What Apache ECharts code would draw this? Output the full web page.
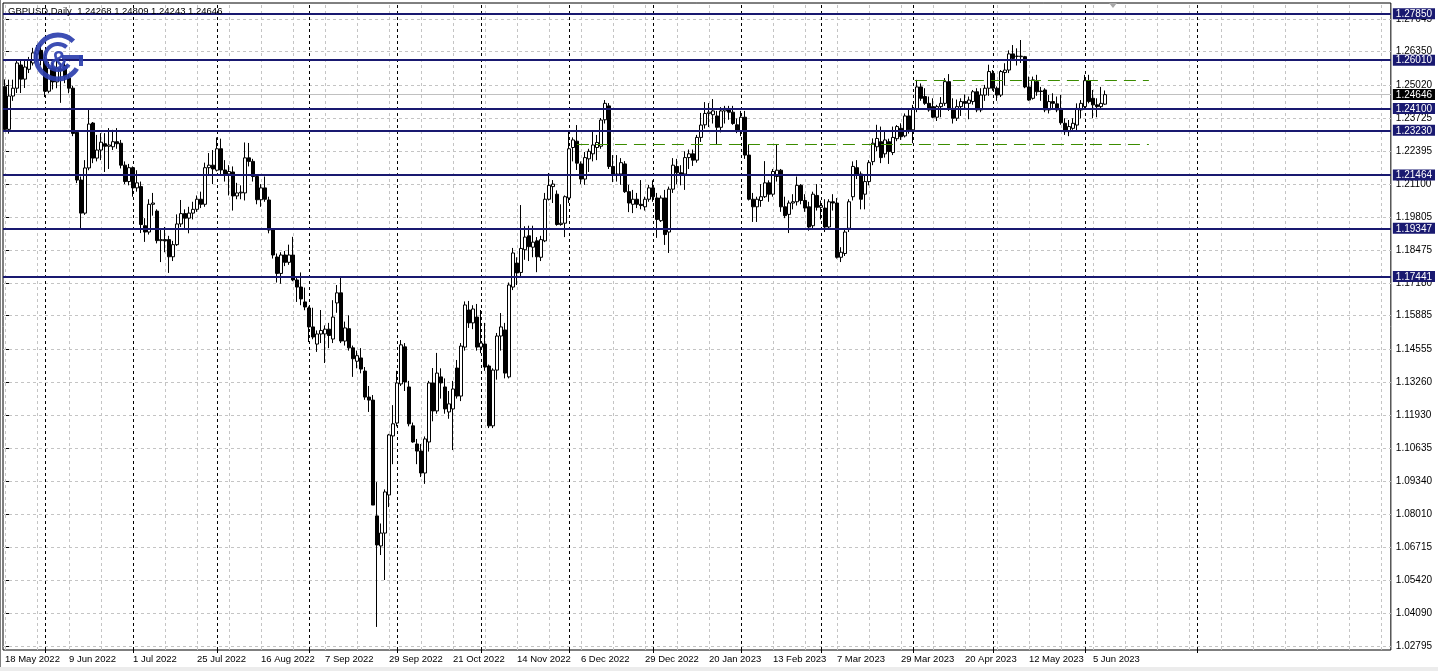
<!DOCTYPE html>
<html>
<head>
<meta charset="utf-8">
<script src="https://cdn.jsdelivr.net/npm/echarts@6/dist/echarts.min.js"></script>
<style>
html,body{margin:0;padding:0;background:#fff;}
#chart{width:1438px;height:671px;}
</style>
</head>
<body>
<div id="chart"></div>
<script>
// Daily bars from 18 May 2022 (index 0) to 8 Jun 2023 (index 275): [open, high, low, close]
const ohlc = [
[1.2496,1.2525,1.2320,1.2327],[1.2327,1.2524,1.2310,1.2459],[1.2459,1.2524,1.2440,1.2490],[1.2490,1.2602,1.2471,1.2590],
[1.2582,1.2598,1.2471,1.2526],[1.2526,1.2602,1.2491,1.2574],[1.2565,1.2614,1.2550,1.2600],[1.2590,1.2650,1.2580,1.2630],
[1.2625,1.2661,1.2594,1.2640],[1.2640,1.2665,1.2580,1.2605],[1.2605,1.2615,1.2455,1.2478],[1.2478,1.2595,1.2470,1.2570],
[1.2570,1.2590,1.2485,1.2515],[1.2515,1.2600,1.2490,1.2570],[1.2565,1.2590,1.2432,1.2560],[1.2580,1.2600,1.2510,1.2535],
[1.2530,1.2545,1.2470,1.2490],[1.2490,1.2500,1.2300,1.2311],[1.2315,1.2320,1.2114,1.2126],[1.2126,1.2140,1.1932,1.1995],
[1.1995,1.2205,1.1988,1.2174],[1.2174,1.2406,1.2165,1.2348],[1.2352,1.2356,1.2193,1.2213],[1.2213,1.2305,1.2200,1.2245],
[1.2245,1.2312,1.2205,1.2276],[1.2270,1.2312,1.2158,1.2260],[1.2260,1.2332,1.2170,1.2265],[1.2258,1.2325,1.2245,1.2278],
[1.2278,1.2332,1.2250,1.2270],[1.2272,1.2285,1.2172,1.2185],[1.2185,1.2200,1.2110,1.2120],[1.2120,1.2190,1.2105,1.2175],
[1.2175,1.2180,1.2060,1.2095],[1.2095,1.2165,1.2080,1.2115],[1.2100,1.2120,1.1916,1.1950],[1.1945,1.1975,1.1881,1.1920],
[1.1920,1.2050,1.1910,1.2030],[1.2030,1.2075,1.1985,1.2035],[1.2003,1.2010,1.1875,1.1886],[1.1886,1.1935,1.1801,1.1890],
[1.1890,1.1940,1.1840,1.1885],[1.1890,1.1905,1.1758,1.1822],[1.1822,1.1885,1.1805,1.1870],[1.1870,1.1990,1.1865,1.1952],
[1.1952,1.2047,1.1940,1.1993],[1.1993,1.2010,1.1935,1.1975],[1.1975,1.2020,1.1915,1.1995],[1.1995,1.2040,1.1970,1.2010],
[1.2010,1.2065,1.2000,1.2050],[1.2050,1.2080,1.2015,1.2030],[1.2030,1.2195,1.2020,1.2175],[1.2175,1.2233,1.2150,1.2185],
[1.2185,1.2245,1.2110,1.2170],[1.2165,1.2295,1.2160,1.2250],[1.2250,1.2290,1.2150,1.2166],[1.2166,1.2205,1.2120,1.2150],
[1.2150,1.2185,1.2065,1.2160],[1.2158,1.2180,1.2005,1.2063],[1.2063,1.2115,1.2050,1.2075],[1.2075,1.2105,1.2050,1.2078],
[1.2075,1.2275,1.2045,1.2214],[1.2214,1.2273,1.2180,1.2200],[1.2200,1.2210,1.2120,1.2140],[1.2140,1.2150,1.2030,1.2048],
[1.2048,1.2110,1.2020,1.2095],[1.2095,1.2140,1.2040,1.2050],[1.2047,1.2060,1.1915,1.1928],[1.1928,1.1935,1.1815,1.1829],
[1.1821,1.1835,1.1720,1.1756],[1.1756,1.1840,1.1715,1.1829],[1.1829,1.1845,1.1785,1.1800],[1.1800,1.1870,1.1790,1.1829],
[1.1829,1.1901,1.1725,1.1730],[1.1730,1.1745,1.1643,1.1702],[1.1702,1.1760,1.1630,1.1655],[1.1643,1.1700,1.1610,1.1623],
[1.1619,1.1625,1.1484,1.1544],[1.1544,1.1620,1.1495,1.1504],[1.1476,1.1530,1.1445,1.1516],[1.1516,1.1611,1.1480,1.1530],
[1.1516,1.1550,1.1401,1.1535],[1.1535,1.1560,1.1460,1.1510],[1.1496,1.1650,1.1480,1.1583],[1.1639,1.1710,1.1600,1.1679],
[1.1679,1.1738,1.1480,1.1488],[1.1488,1.1565,1.1470,1.1540],[1.1537,1.1590,1.1450,1.1461],[1.1461,1.1470,1.1346,1.1418],
[1.1408,1.1450,1.1380,1.1430],[1.1421,1.1460,1.1360,1.1377],[1.1369,1.1385,1.1255,1.1266],[1.1266,1.1310,1.1207,1.1254],
[1.1254,1.1274,1.0838,1.0838],[1.0795,1.0929,1.0355,1.0680],[1.0676,1.0765,1.0640,1.0727],[1.0727,1.0900,1.0541,1.0890],
[1.0878,1.1120,1.0830,1.1116],[1.1112,1.1234,1.1000,1.1160],[1.1163,1.1370,1.1150,1.1322],[1.1318,1.1492,1.1310,1.1473],
[1.1465,1.1480,1.1290,1.1326],[1.1306,1.1330,1.1150,1.1160],[1.1152,1.1165,1.1085,1.1088],[1.1080,1.1100,1.1000,1.1052],
[1.1052,1.1080,1.0949,1.0965],[1.0965,1.1110,1.0922,1.1100],[1.1088,1.1330,1.1050,1.1322],[1.1322,1.1381,1.1170,1.1211],
[1.1211,1.1441,1.1200,1.1361],[1.1346,1.1380,1.1260,1.1322],[1.1306,1.1340,1.1200,1.1219],[1.1207,1.1290,1.1180,1.1239],
[1.1219,1.1330,1.1056,1.1298],[1.1381,1.1413,1.1260,1.1270],[1.1270,1.1480,1.1250,1.1468],[1.1464,1.1645,1.1450,1.1631],
[1.1611,1.1647,1.1540,1.1560],[1.1560,1.1630,1.1535,1.1615],[1.1583,1.1635,1.1450,1.1464],[1.1464,1.1611,1.1440,1.1480],
[1.1476,1.1560,1.1370,1.1385],[1.1389,1.1395,1.1143,1.1152],[1.1152,1.1380,1.1143,1.1373],[1.1373,1.1520,1.1335,1.1508],
[1.1508,1.1599,1.1450,1.1544],[1.1532,1.1560,1.1340,1.1361],[1.1346,1.1720,1.1340,1.1710],[1.1702,1.1857,1.1690,1.1837],
[1.1797,1.1820,1.1710,1.1758],[1.1760,1.2027,1.1741,1.1855],[1.1850,1.1943,1.1810,1.1900],[1.1905,1.1945,1.1805,1.1862],
[1.1860,1.1945,1.1820,1.1880],[1.1885,1.1900,1.1761,1.1822],[1.1820,1.1905,1.1805,1.1890],[1.1885,1.2075,1.1880,1.2050],
[1.2050,1.2154,1.2045,1.2105],[1.2100,1.2126,1.2035,1.2110],[1.2070,1.2085,1.1945,1.1950],[1.1950,1.2030,1.1945,1.1955],
[1.1955,1.2065,1.1900,1.2060],[1.2055,1.2324,1.2035,1.2250],[1.2255,1.2295,1.2200,1.2285],[1.2280,1.2344,1.2166,1.2193],
[1.2190,1.2200,1.2110,1.2130],[1.2130,1.2237,1.2107,1.2215],[1.2210,1.2250,1.2158,1.2240],[1.2230,1.2324,1.2200,1.2265],
[1.2255,1.2305,1.2205,1.2275],[1.2260,1.2372,1.2250,1.2364],[1.2365,1.2443,1.2350,1.2430],[1.2420,1.2431,1.2170,1.2180],
[1.2180,1.2225,1.2118,1.2150],[1.2150,1.2225,1.2120,1.2145],[1.2150,1.2213,1.2107,1.2195],[1.2190,1.2201,1.2075,1.2080],
[1.2080,1.2107,1.1999,1.2035],[1.2030,1.2087,1.1995,1.2050],[1.2050,1.2075,1.2015,1.2030],[1.2030,1.2126,1.2010,1.2025],
[1.2020,1.2060,1.2005,1.2050],[1.2050,1.2107,1.2040,1.2095],[1.2095,1.2125,1.2040,1.2060],[1.2055,1.2075,1.1897,1.1970],
[1.1965,1.2065,1.1960,1.2055],[1.2055,1.2087,1.1869,1.1910],[1.1920,1.2100,1.1837,1.2090],[1.2090,1.2213,1.2075,1.2185],
[1.2180,1.2210,1.2110,1.2155],[1.2155,1.2185,1.2105,1.2145],[1.2150,1.2240,1.2087,1.2215],[1.2215,1.2247,1.2170,1.2230],
[1.2230,1.2247,1.2182,1.2205],[1.2205,1.2305,1.2195,1.2295],[1.2295,1.2392,1.2277,1.2344],[1.2345,1.2435,1.2330,1.2390],
[1.2390,1.2431,1.2336,1.2395],[1.2385,1.2447,1.2350,1.2400],[1.2380,1.2400,1.2265,1.2335],[1.2335,1.2415,1.2315,1.2400],
[1.2400,1.2420,1.2350,1.2410],[1.2405,1.2420,1.2365,1.2395],[1.2395,1.2420,1.2345,1.2350],[1.2345,1.2370,1.2312,1.2320],
[1.2320,1.2400,1.2300,1.2375],[1.2375,1.2400,1.2210,1.2225],[1.2225,1.2265,1.2045,1.2050],[1.2050,1.2075,1.1960,1.2020],
[1.2020,1.2060,1.1960,1.2050],[1.2045,1.2110,1.2020,1.2060],[1.2060,1.2201,1.2055,1.2115],[1.2115,1.2125,1.2040,1.2070],
[1.2070,1.2170,1.2060,1.2160],[1.2140,1.2269,1.2120,1.2165],[1.2165,1.2170,1.2000,1.2020],[1.2020,1.2060,1.1975,1.1985],
[1.1990,1.2045,1.1916,1.2035],[1.2035,1.2070,1.2010,1.2040],[1.2040,1.2140,1.2025,1.2105],[1.2105,1.2110,1.2030,1.2045],
[1.2045,1.2070,1.2000,1.2015],[1.2020,1.2040,1.1925,1.1940],[1.1945,1.2080,1.1935,1.2070],[1.2065,1.2110,1.2005,1.2018],
[1.2018,1.2045,1.1970,1.2025],[1.2015,1.2050,1.1920,1.1940],[1.1940,1.2050,1.1930,1.2040],[1.2040,1.2070,1.2005,1.2035],
[1.2035,1.2055,1.1815,1.1820],[1.1820,1.1860,1.1801,1.1840],[1.1835,1.1930,1.1825,1.1920],[1.1935,1.2050,1.1920,1.2040],
[1.2060,1.2200,1.2045,1.2180],[1.2175,1.2205,1.2130,1.2150],[1.2150,1.2160,1.2010,1.2050],[1.2070,1.2145,1.2010,1.2120],
[1.2120,1.2205,1.2105,1.2195],[1.2199,1.2291,1.2185,1.2272],[1.2258,1.2345,1.2240,1.2291],[1.2278,1.2338,1.2193,1.2215],
[1.2230,1.2318,1.2215,1.2285],[1.2278,1.2290,1.2190,1.2239],[1.2235,1.2338,1.2225,1.2295],[1.2290,1.2344,1.2280,1.2338],
[1.2331,1.2351,1.2285,1.2298],[1.2301,1.2390,1.2295,1.2380],[1.2380,1.2404,1.2310,1.2325],[1.2325,1.2424,1.2272,1.2410],
[1.2406,1.2523,1.2395,1.2495],[1.2495,1.2509,1.2440,1.2450],[1.2457,1.2490,1.2424,1.2430],[1.2430,1.2457,1.2397,1.2404],
[1.2417,1.2450,1.2371,1.2375],[1.2375,1.2424,1.2360,1.2417],[1.2417,1.2455,1.2375,1.2430],[1.2430,1.2530,1.2420,1.2516],
[1.2516,1.2546,1.2400,1.2410],[1.2410,1.2450,1.2350,1.2371],[1.2371,1.2445,1.2360,1.2417],[1.2417,1.2450,1.2380,1.2437],
[1.2437,1.2465,1.2405,1.2430],[1.2430,1.2457,1.2367,1.2443],[1.2437,1.2483,1.2425,1.2476],[1.2476,1.2490,1.2395,1.2404],
[1.2404,1.2490,1.2395,1.2463],[1.2463,1.2503,1.2440,1.2490],[1.2490,1.2583,1.2460,1.2556],[1.2549,1.2562,1.2480,1.2490],
[1.2490,1.2497,1.2440,1.2463],[1.2463,1.2562,1.2455,1.2556],[1.2552,1.2589,1.2500,1.2562],[1.2562,1.2640,1.2550,1.2626],
[1.2626,1.2661,1.2600,1.2608],[1.2616,1.2648,1.2580,1.2617],[1.2615,1.2681,1.2590,1.2617],[1.2615,1.2618,1.2490,1.2495],
[1.2495,1.2536,1.2440,1.2443],[1.2450,1.2536,1.2445,1.2523],[1.2516,1.2543,1.2460,1.2476],[1.2479,1.2495,1.2440,1.2477],
[1.2483,1.2490,1.2395,1.2404],[1.2404,1.2463,1.2390,1.2437],[1.2437,1.2470,1.2410,1.2430],[1.2428,1.2457,1.2395,1.2404],
[1.2404,1.2463,1.2345,1.2353],[1.2351,1.2371,1.2305,1.2318],[1.2318,1.2364,1.2300,1.2338],[1.2331,1.2371,1.2325,1.2351],
[1.2344,1.2430,1.2320,1.2410],[1.2404,1.2443,1.2370,1.2430],[1.2417,1.2543,1.2410,1.2520],[1.2520,1.2543,1.2430,1.2437],
[1.2450,1.2483,1.2371,1.2424],[1.2424,1.2450,1.2375,1.2417],[1.2417,1.2495,1.2405,1.2430],[1.24268,1.24809,1.24243,1.24646]
];

// time-axis labels, one every 16 bars starting at bar 0
const xLabels = ['18 May 2022','9 Jun 2022','1 Jul 2022','25 Jul 2022','16 Aug 2022','7 Sep 2022','29 Sep 2022',
  '21 Oct 2022','14 Nov 2022','6 Dec 2022','29 Dec 2022','20 Jan 2023','13 Feb 2023','7 Mar 2023','29 Mar 2023',
  '20 Apr 2023','12 May 2023','5 Jun 2023'];
// price-axis tick labels
const yTicks = [1.27645,1.26350,1.25020,1.23725,1.22395,1.21100,1.19805,1.18475,1.17180,1.15885,
  1.14555,1.13260,1.11930,1.10635,1.09340,1.08010,1.06715,1.05420,1.04090,1.02795];
// horizontal support / resistance levels
const levels = [1.27850,1.26010,1.24100,1.23230,1.21464,1.19347,1.17441];
// current bid
const bid = 1.24646;
// bar indices of the first bar of each month (period separators)
const monthStartIdx = [10,32,53,76,98,119,141,162,184,204,227,247,270,298];
// dashed trend levels: [startBar, endBar, price]
const dashLevels = [[227.5,286,1.2523],[143,286,1.2268]];

const X_MIN = -0.5, X_MAX = 346.5, Y_MIN = 1.02636, Y_MAX = 1.28277;
const FONT = 'Liberation Sans, Arial, sans-serif';
const LOGO = '#2c3fae';

const candles = ohlc.map((r, i) => [i, r[0], r[3], r[2], r[1]]);

const gridItems = [];
yTicks.forEach(v => gridItems.push([{coord:[X_MIN, v]}, {coord:[X_MAX, v]}]));
for (let k = 0; k <= 344; k += 8) gridItems.push([{coord:[k + 0.125, Y_MIN]}, {coord:[k + 0.125, Y_MAX]}]);
const sepItems = monthStartIdx.map(k => [
  {coord:[k + 0.125, Y_MIN], lineStyle:{color:'#000', type:[3,3], width:1}},
  {coord:[k + 0.125, Y_MAX]}
]);
const bidItem = [[{coord:[X_MIN, bid], lineStyle:{color:'#c0c0c0', type:'solid', width:1}}, {coord:[X_MAX, bid]}]];

const levelItems = levels.map(v => [
  {coord:[X_MIN, v], lineStyle:{color:'#191970', width:2, type:'solid'}}, {coord:[X_MAX, v]}
]);
const greenItems = dashLevels.map(d => [
  {coord:[d[0], d[2]], lineStyle:{color:'#3c8c00', width:1, type:[12,7]}}, {coord:[d[1], d[2]]}
]);

const chart = echarts.init(document.getElementById('chart'), null, {renderer:'canvas'});
chart.setOption({
  animation: false,
  backgroundColor: '#ffffff',
  textStyle: {fontFamily: FONT},
  grid: {left: 3, right: 47, top: 3, bottom: 21, show: true, borderColor: '#000', borderWidth: 1, backgroundColor: '#fff'},
  xAxis: {
    type: 'value', min: X_MIN, max: X_MAX,
    axisLine: {show: false},
    splitLine: {show: false},
    axisTick: {show: true, customValues: monthStartIdx, length: 3, inside: false, lineStyle: {color: '#000'}},
    axisLabel: {
      customValues: xLabels.map((_, k) => k * 16),
      formatter: v => xLabels[Math.round(v / 16)] || '',
      align: 'left', margin: 4, fontSize: 9.5, color: '#000', fontFamily: FONT
    }
  },
  yAxis: [{
    type: 'value', position: 'right', min: Y_MIN, max: Y_MAX, scale: true,
    axisLine: {show: false},
    splitLine: {show: false},
    axisTick: {show: true, customValues: yTicks, length: 4, lineStyle: {color: '#000'}},
    axisLabel: {customValues: yTicks, formatter: v => v.toFixed(5), fontSize: 10, color: '#000', margin: 5, fontFamily: FONT}
  }, {
    type: 'value', position: 'right', min: Y_MIN, max: Y_MAX, scale: true,
    axisLine: {show: false}, axisTick: {show: false}, splitLine: {show: false},
    axisLabel: {
      customValues: levels.concat([bid]),
      formatter: v => (Math.abs(v - bid) < 1e-7 ? '{b|' : '{n|') + v.toFixed(5) + '}',
      margin: 2, fontFamily: FONT,
      rich: {
        n: {backgroundColor: '#191970', color: '#fff', fontSize: 10, padding: [1, 3, 0, 3], fontFamily: FONT},
        b: {backgroundColor: '#000', color: '#fff', fontSize: 10, padding: [1, 3, 0, 3], fontFamily: FONT}
      }
    }
  }],
  series: [{
    type: 'line', data: [], z: 1, silent: true, clip: false,
    markLine: {
      silent: true, symbol: ['none', 'none'], label: {show: false}, z: 1, animation: false,
      lineStyle: {color: '#c4c4c4', type: [3, 3], width: 1},
      data: gridItems.concat(bidItem, sepItems)
    }
  }, {
    type: 'candlestick', z: 3, data: candles,
    encode: {x: 0, y: [1, 2, 3, 4]},
    barWidth: 3,
    itemStyle: {color: '#ffffff', color0: '#000000', borderColor: '#000000', borderColor0: '#000000', borderWidth: 1}
  }, {
    type: 'line', data: [], z: 5, silent: true, clip: false,
    markLine: {
      silent: true, symbol: ['none', 'none'], label: {show: false}, z: 5, animation: false,
      data: levelItems.concat(greenItems)
    }
  }],
  graphic: [
    {type: 'text', left: 8, top: 6, z: 100, style: {text: 'GBPUSD,Daily  1.24268 1.24809 1.24243 1.24646', font: '9.5px ' + FONT, fill: '#000'}},
    {type: 'polygon', z: 100, shape: {points: [[1109, 3], [1117, 3], [1113, 8]]}, style: {fill: '#a8a8a8'}},
    {type: 'arc', z: 100, shape: {cx: 58, cy: 57, r: 22, startAngle: -0.8, endAngle: 0.55, clockwise: false}, style: {stroke: LOGO, lineWidth: 5, fill: null, opacity: 0.92}},
    {type: 'arc', z: 100, shape: {cx: 58, cy: 57, r: 13, startAngle: -0.85, endAngle: 0.6, clockwise: false}, style: {stroke: LOGO, lineWidth: 4, fill: null, opacity: 0.92}},
    {type: 'line', z: 100, shape: {x1: 62, y1: 57, x2: 83, y2: 57}, style: {stroke: LOGO, lineWidth: 4, opacity: 0.92}},
    {type: 'line', z: 100, shape: {x1: 81, y1: 55, x2: 81, y2: 66}, style: {stroke: LOGO, lineWidth: 4, opacity: 0.92}},
    {type: 'text', z: 101, x: 59, y: 62, style: {text: '&', font: 'bold 26px ' + FONT, fill: LOGO, opacity: 0.92, align: 'center', verticalAlign: 'middle'}},
    {type: 'rect', z: 0, shape: {x: 0, y: 667, width: 1438, height: 4}, style: {fill: '#ececec'}},
    {type: 'line', z: 100, shape: {x1: 0.5, y1: 0, x2: 0.5, y2: 667}, style: {stroke: '#808080', lineWidth: 1}}
  ]
});
</script>
</body>
</html>
